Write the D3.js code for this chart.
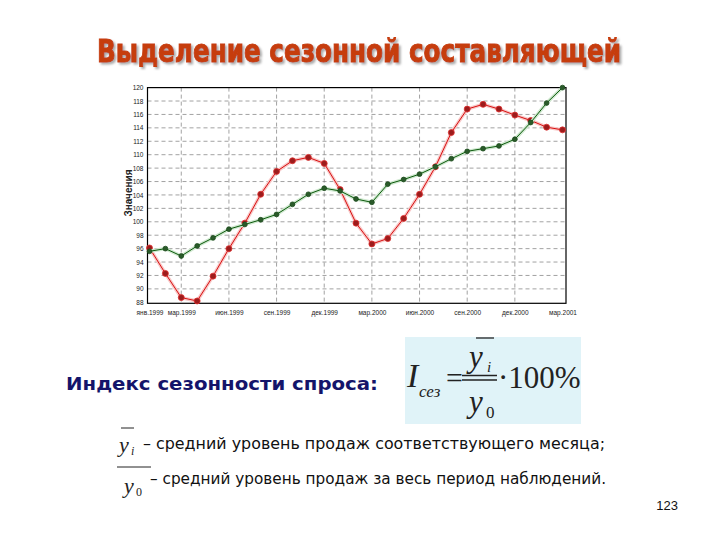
<!DOCTYPE html>
<html>
<head>
<meta charset="utf-8">
<script src="https://cdn.jsdelivr.net/npm/d3@7"></script>
<style>
  body { margin: 0; background: #fff; }
  svg { display: block; }
</style>
</head>
<body>
<div id="slide"></div>
<script>
// monthly points, янв.1999 .. мар.2001
const months = ["янв.1999","фев.1999","мар.1999","апр.1999","май.1999","июн.1999","июл.1999","авг.1999","сен.1999","окт.1999","ноя.1999","дек.1999",
                "янв.2000","фев.2000","мар.2000","апр.2000","май.2000","июн.2000","июл.2000","авг.2000","сен.2000","окт.2000","ноя.2000","дек.2000",
                "янв.2001","фев.2001","мар.2001"];
// red line (seasonal component)
const seasonal = [96.1, 92.3, 88.7, 88.2, 91.9, 96.0, 99.8, 104.1, 107.5, 109.1, 109.6, 108.7,
                  104.8, 99.8, 96.7, 97.5, 100.5, 104.1, 108.2, 113.3, 116.8, 117.5, 116.8, 115.9,
                  115.1, 114.1, 113.7];
// green line
const trend = [95.6, 96.0, 94.9, 96.4, 97.6, 98.9, 99.6, 100.3, 101.1, 102.6, 104.1, 105.0,
               104.6, 103.4, 102.9, 105.6, 106.3, 107.1, 108.2, 109.4, 110.5, 110.9, 111.3, 112.3,
               114.8, 117.7, 120.0];
const xTickIdx = [0, 2, 5, 8, 11, 14, 17, 20, 23, 26];
const yTicks = d3.range(88, 121, 2);

const W = 720, H = 540;
const svg = d3.select("#slide").append("svg")
    .attr("width", W)
    .attr("height", H);

// soft shadow for the title
svg.append("defs").append("filter")
    .attr("id", "shadow")
    .attr("x", "-5%").attr("y", "-20%").attr("width", "110%").attr("height", "150%")
    .append("feDropShadow")
    .attr("dx", 2).attr("dy", 2).attr("stdDeviation", 0.8)
    .attr("flood-color", "#888").attr("flood-opacity", 0.7);

svg.append("text")
    .attr("x", 97).attr("y", 62)
    .attr("textLength", 524).attr("lengthAdjust", "spacingAndGlyphs")
    .attr("filter", "url(#shadow)")
    .style("font-family", "'Liberation Sans Narrow', 'DejaVu Sans Condensed', sans-serif")
    .style("font-weight", "bold")
    .style("font-size", "32px")
    .style("fill", "#c63d0e")
    .style("stroke", "#c63d0e")
    .style("stroke-width", 0.9)
    .text("Выделение сезонной составляющей");

// chart scales
var x = d3.scaleLinear().domain([0, 26]).range([149.5, 562.5]);
var y = d3.scaleLinear().domain([88, 120]).range([302.3, 87.6]);
const plotL = x(0) - 2, plotR = x(26) + 3.5, plotT = y(120), plotB = y(88) + 1;

var chart = svg.append("g").attr("id", "chart");

// grid
chart.selectAll(".hgrid")
    .data(yTicks.filter(d => d > 88 && d < 120))
    .enter().append("line")
    .attr("class", "hgrid")
    .attr("x1", plotL).attr("x2", plotR)
    .attr("y1", d => y(d)).attr("y2", d => y(d))
    .attr("stroke", "#7a7a7a").attr("stroke-width", 0.7)
    .attr("stroke-dasharray", "4,3");
chart.selectAll(".vgrid")
    .data(xTickIdx.filter(d => d > 0 && d < 26))
    .enter().append("line")
    .attr("class", "vgrid")
    .attr("x1", d => x(d)).attr("x2", d => x(d))
    .attr("y1", plotT).attr("y2", plotB)
    .attr("stroke", "#7a7a7a").attr("stroke-width", 0.7)
    .attr("stroke-dasharray", "4,3");

// frame
chart.append("rect")
    .attr("x", plotL).attr("y", plotT)
    .attr("width", plotR - plotL).attr("height", plotB - plotT)
    .attr("fill", "none").attr("stroke", "#000").attr("stroke-width", 1.2);

// axes
var yAxis = chart.append("g")
    .attr("transform", "translate(" + plotL + ",0)")
    .call(d3.axisLeft(y).tickValues(yTicks).tickSize(0).tickPadding(4));
var xAxis = chart.append("g")
    .attr("transform", "translate(0," + plotB + ")")
    .call(d3.axisBottom(x).tickValues(xTickIdx).tickFormat(i => months[i]).tickSize(0).tickPadding(7));
[yAxis, xAxis].forEach(function(a) {
    a.select(".domain").remove();
    a.selectAll("text")
        .style("font-family", "'Liberation Sans', Arial, sans-serif")
        .style("font-size", "6.5px")
        .style("fill", "#222");
});

chart.append("text")
    .attr("transform", "translate(132,193) rotate(-90)")
    .attr("text-anchor", "middle")
    .style("font-family", "'Liberation Sans', Arial, sans-serif")
    .style("font-size", "10px")
    .style("font-weight", "bold")
    .style("fill", "#222")
    .text("Значения");

// lines
var line = d3.line()
    .x((d, i) => x(i))
    .y(d => y(d));

function drawSeries(data, halo, stroke, dotFill, dotStroke, r) {
    chart.append("path").datum(data)
        .attr("d", line).attr("fill", "none")
        .attr("stroke", halo).attr("stroke-width", 3.5);
    chart.append("path").datum(data)
        .attr("d", line).attr("fill", "none")
        .attr("stroke", stroke).attr("stroke-width", 1);
    chart.append("g").selectAll("circle")
        .data(data).enter().append("circle")
        .attr("cx", (d, i) => x(i))
        .attr("cy", d => y(d))
        .attr("r", r)
        .attr("fill", dotFill)
        .attr("stroke", dotStroke)
        .attr("stroke-width", 0.8);
}
drawSeries(seasonal, "#f8c8c8", "#d81010", "#9c1c1c", "#e03030", 3);
drawSeries(trend, "#cfe8cf", "#0c5a0c", "#2a5a2a", "#1a4a1a", 2.4);

// index caption
svg.append("text")
    .attr("x", 66).attr("y", 390)
    .attr("textLength", 312).attr("lengthAdjust", "spacingAndGlyphs")
    .style("font-family", "'DejaVu Sans', Verdana, sans-serif")
    .style("font-weight", "bold")
    .style("font-size", "17px")
    .style("fill", "#14146a")
    .text("Индекс сезонности спроса:");

// formula box
var f = svg.append("g");
f.append("rect")
    .attr("x", 405).attr("y", 337).attr("width", 176).attr("height", 87)
    .attr("fill", "#e0f3f8");
const serif = "'Liberation Serif', 'Times New Roman', serif";
function ftext(tx, ty, size, str, italic) {
    return f.append("text")
        .attr("x", tx).attr("y", ty)
        .style("font-family", serif)
        .style("font-style", italic ? "italic" : "normal")
        .style("font-size", size + "px")
        .style("fill", "#222")
        .text(str);
}
ftext(407, 387, 34, "I", true);
ftext(419, 397, 17, "сез", true);
ftext(446, 388, 30, "=", false);
ftext(469, 367, 31, "y", true);
ftext(487, 372, 15, "i", true);
ftext(469, 412, 31, "y", true);
ftext(486, 418, 17, "0", false);
f.append("line").attr("x1", 476).attr("x2", 494).attr("y1", 338).attr("y2", 338)
    .attr("stroke", "#222").attr("stroke-width", 1.3);
f.append("line").attr("x1", 462).attr("x2", 497).attr("y1", 375.5).attr("y2", 375.5)
    .attr("stroke", "#222").attr("stroke-width", 1.3);
f.append("line").attr("x1", 462).attr("x2", 497).attr("y1", 380).attr("y2", 380)
    .attr("stroke", "#222").attr("stroke-width", 1.3);
ftext(498, 388, 31, "·100%", false);

// notes
const sans = "'DejaVu Sans', Tahoma, sans-serif";
function note(tx, ty, len, str) {
    svg.append("text")
        .attr("x", tx).attr("y", ty)
        .attr("textLength", len).attr("lengthAdjust", "spacingAndGlyphs")
        .style("font-family", sans)
        .style("font-size", "15px")
        .style("fill", "#111")
        .text(str);
}
function ysym(tx, ty, sub, subItalic, barX1, barX2, barY) {
    svg.append("text").attr("x", tx).attr("y", ty)
        .style("font-family", serif).style("font-style", "italic")
        .style("font-size", "22px").style("fill", "#222").text("y");
    svg.append("text").attr("x", tx + 12).attr("y", ty + 3)
        .style("font-family", serif).style("font-style", subItalic ? "italic" : "normal")
        .style("font-size", "12px").style("fill", "#222").text(sub);
    svg.append("line").attr("x1", barX1).attr("x2", barX2).attr("y1", barY).attr("y2", barY)
        .attr("stroke", "#222").attr("stroke-width", 1);
}
ysym(119, 452, "i", true, 121, 134, 428);
ysym(124, 493, "0", false, 117, 151, 467);
note(143, 449, 462, "– средний уровень продаж соответствующего месяца;");
note(150, 484, 456, "– средний уровень продаж за весь период наблюдений.");

svg.append("text")
    .attr("x", 678).attr("y", 510)
    .attr("text-anchor", "end")
    .style("font-family", "'Liberation Sans', Arial, sans-serif")
    .style("font-size", "13px")
    .style("fill", "#111")
    .text("123");
</script>
</body>
</html>
